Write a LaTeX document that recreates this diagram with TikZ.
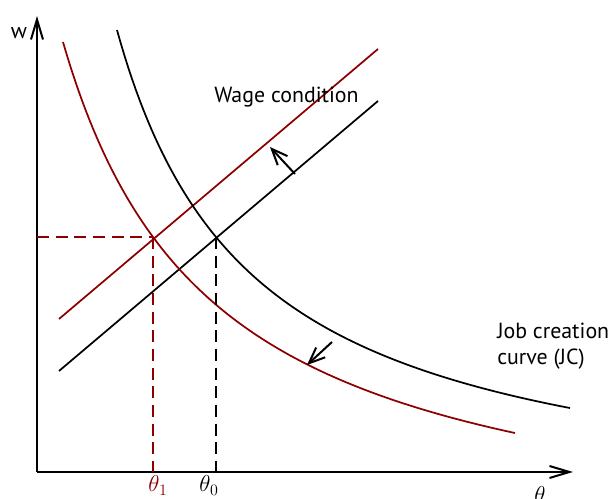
\documentclass[tikz,border=0pt]{standalone}
\usepackage{fontspec}
\setmainfont{PT Sans}
\usetikzlibrary{arrows.meta}
\definecolor{dred}{RGB}{140,0,0}
\begin{document}
\begin{tikzpicture}[x=7.5pt,y=-7.5pt,
  crv/.style={line width=1.3pt},
  axis/.style={line width=1.5pt,-{Straight Barb[length=15pt,width=9pt,line width=1.5pt]}},
  shiftarrow/.style={line width=1.5pt,-{Straight Barb[length=12pt,width=10pt,line width=1.5pt]}},
  guide/.style={line width=1.3pt,dash pattern=on 9pt off 5pt},
  lbl/.style={font=\fontsize{16.4}{19.5}\selectfont,inner sep=0pt},
  mlbl/.style={font=\fontsize{18}{21}\selectfont,inner sep=0pt}]
\useasboundingbox (0,0) rectangle (61.2,49.9);
% axes
\coordinate (O) at (3.7,47.2);
\coordinate (Ytip) at (3.7,1.6);
\coordinate (Xtip) at (57.3,47.2);
\draw[axis] (O) -- (Ytip);
\draw[axis] (O) -- (Xtip);
\node[lbl,anchor=base] (wl) at (1.9,3.9) {w};
\node[mlbl,anchor=base] (thl) at (54.0,50.3) {$\theta$};
% wage condition lines
\coordinate (wb0) at (5.9,37.1);
\coordinate (wb1) at (37.8,10.1);
\coordinate (wr0) at (5.9,31.9);
\coordinate (wr1) at (37.8,4.9);
\draw[crv] (wb0) -- (wb1);
\draw[crv,dred] (wr0) -- (wr1);
% job creation curves
\draw[crv] plot[domain=11.7:57.0,samples=120] (\x,{52.16-669.03/(\x+1.91)});
\draw[crv,dred] plot[domain=6.3:51.5,samples=120] (\x,{56.33-785.07/(\x+8.76)});
% equilibria
\coordinate (E0) at (21.6,23.7);
\coordinate (E1) at (15.3,23.7);
\coordinate (E0x) at (21.6,47.2);
\coordinate (E1x) at (15.3,47.2);
\coordinate (E1y) at (3.7,23.7);
\draw[guide,dred] (E1y) -- (E1);
\draw[guide,dred] (E1) -- (E1x);
\draw[guide] (E0) -- (E0x);
\node[mlbl,anchor=base,dred] (th1) at (15.8,49.2) {$\theta_1$};
\node[mlbl,anchor=base] (th0) at (20.9,49.2) {$\theta_0$};
% shift arrows
\coordinate (a1s) at (29.5,17.4);
\coordinate (a1e) at (27.0,14.7);
\coordinate (a2s) at (33.2,34.2);
\coordinate (a2e) at (30.7,36.5);
\draw[shiftarrow] (a1s) -- (a1e);
\draw[shiftarrow] (a2s) -- (a2e);
% labels
\node[lbl,anchor=base west] (wc) at (21.4,10.3) {Wage condition};
\node[lbl,anchor=base west,align=left] (jc) at (49.7,36.5) {Job creation\\curve (JC)};
\end{tikzpicture}
\end{document}
